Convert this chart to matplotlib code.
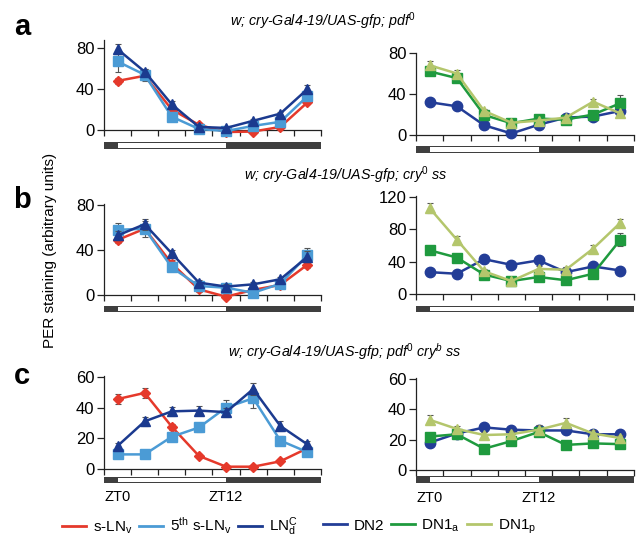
import matplotlib
matplotlib.use("Agg")
import matplotlib.pyplot as plt
from matplotlib.patches import Rectangle
from matplotlib.lines import Line2D

plt.rcParams['font.family'] = ['Liberation Sans', 'DejaVu Sans']
plt.rcParams['mathtext.fontset'] = 'custom'
plt.rcParams['mathtext.rm'] = 'Liberation Sans'
plt.rcParams['mathtext.it'] = 'Liberation Sans:italic'
plt.rcParams['mathtext.bf'] = 'Liberation Sans:bold'

# ---------------- data ----------------
zt = [0, 3, 6, 9, 12, 15, 18, 21]
light_on, light_off = 0, 12
x_range = (-1.5, 22.5)
xticks = [-1.5, 1.5, 4.5, 7.5, 10.5, 13.5, 16.5, 19.5, 22.5]

# panel a (pdf0)
sLNv_a = [48, 53, 20, 5, -2, -1.5, 3, 27]
fifth_a = [67, 54, 13, 1, -1, 4, 8, 33]
LNd_a = [79, 57, 25, 3, 2, 9, 16, 40]
sLNv_a_err = [3, 3, 2, 2, 2, 1, 2, 2]
fifth_a_err = [10, 6, 3, 1, 1, 2, 2, 4]
LNd_a_err = [5, 3, 3, 2, 1, 2, 2, 4]
DN2_a = [32, 28, 9.5, 1.5, 10, 17, 18, 23.5]
DN1a_a = [62, 55.5, 19.5, 11.5, 16, 15, 20, 31]
DN1p_a = [68, 60, 23.5, 12, 14, 17, 32.5, 21]
DN2_a_err = [2, 2, 2, 1, 2, 2, 2, 2]
DN1a_a_err = [3, 3, 3, 2, 2, 2, 2, 8]
DN1p_a_err = [4, 3, 2, 2, 2, 2, 3, 2]

# panel b (cry0 ss)
sLNv_b = [49, 59, 28, 5, -1.5, 4.5, 9, 27]
fifth_b = [58, 59, 24.5, 8, 6.5, 2, 10, 35.5]
LNd_b = [53, 63, 37, 11, 7.5, 9.5, 14, 34]
sLNv_b_err = [3, 3, 3, 2, 2, 1, 2, 3]
fifth_b_err = [6, 7, 3, 2, 2, 2, 2, 6]
LNd_b_err = [4, 5, 3, 2, 2, 2, 2, 5]
DN2_b = [27, 25, 43, 36, 41.5, 27, 34, 29]
DN1a_b = [54, 45, 24, 16, 21, 17, 25, 67]
DN1p_b = [106, 67, 28, 16, 31, 30, 56, 88]
DN2_b_err = [2, 2, 3, 2, 3, 2, 3, 2]
DN1a_b_err = [3, 3, 2, 2, 2, 2, 3, 8]
DN1p_b_err = [6, 4, 3, 2, 3, 3, 4, 5]

# panel c (pdf0 cryb ss)
sLNv_c = [45.5, 49.5, 27.5, 8.5, 1.5, 1.5, 5, 13.5]
fifth_c = [9.5, 9.5, 21, 27, 40, 46, 18.5, 11]
LNd_c = [15, 31, 37.5, 38, 37, 52, 28, 16]
sLNv_c_err = [3, 3, 2, 1, 1, 1, 1, 1]
fifth_c_err = [2, 2, 2, 3, 5, 6, 3, 2]
LNd_c_err = [2, 3, 3, 3, 3, 4, 3, 2]
DN2_c = [18, 24, 28, 26.5, 26, 26, 23.5, 23.5]
DN1a_c = [22, 23.5, 14, 19, 25, 16.5, 17.5, 17]
DN1p_c = [33, 27, 23, 23.5, 26.5, 31, 24, 21]
DN2_c_err = [2, 2, 2, 1, 2, 2, 2, 2]
DN1a_c_err = [2, 2, 2, 2, 2, 2, 2, 2]
DN1p_c_err = [3, 2, 2, 2, 3, 3, 2, 2]

ln_labels = [r"s-LN$_{\rm v}$", r"5$^{\rm th}$ s-LN$_{\rm v}$", r"LN$_{\rm d}^{\rm C}$"]
dn_labels = ["DN2", r"DN1$_{\rm a}$", r"DN1$_{\rm p}$"]
titles = [r"w; cry-Gal4-19/UAS-gfp; pdf$^{\mathit{0}}$",
          r"w; cry-Gal4-19/UAS-gfp; cry$^{\mathit{0}}$ ss",
          r"w; cry-Gal4-19/UAS-gfp; pdf$^{\mathit{0}}$ cry$^{\mathit{b}}$ ss"]
panel_letters = ["a", "b", "c"]
ylabel = "PER staining (arbitrary units)"

# ---------------- styles ----------------
C_RED = '#e5392b'
C_LB = '#4b9bd5'
C_DB = '#1b3a8f'
C_DN2 = '#233d97'
C_GREEN = '#1f9a3e'
C_YG = '#b4c66c'
ln_styles = [(C_RED, 'D', 5.5), (C_LB, 's', 7), (C_DB, '^', 7.5)]
dn_styles = [(C_DN2, 'o', 7.5), (C_GREEN, 's', 7), (C_YG, '^', 7.5)]
BAR_DARK = '#3f3f3f'

W, H = 636, 539
fig = plt.figure(figsize=(W / 100, H / 100), dpi=100)


def px_axes(left, bottom_px, width, height_px):
    return fig.add_axes([left / W, 1 - bottom_px / H, width / W, height_px / H])


panels = [
    (104, 130, 217, 90, (0, 88), [0, 40, 80], [sLNv_a, fifth_a, LNd_a],
     [sLNv_a_err, fifth_a_err, LNd_a_err], ln_styles, 142, 149),
    (416, 135, 218, 82, (0, 80), [0, 40, 80], [DN2_a, DN1a_a, DN1p_a],
     [DN2_a_err, DN1a_a_err, DN1p_a_err], dn_styles, 146, 153),
    (104, 295, 217, 91, (0, 81), [0, 40, 80], [sLNv_b, fifth_b, LNd_b],
     [sLNv_b_err, fifth_b_err, LNd_b_err], ln_styles, 306, 312),
    (416, 294, 218, 98, (0, 121), [0, 40, 80, 120], [DN2_b, DN1a_b, DN1p_b],
     [DN2_b_err, DN1a_b_err, DN1p_b_err], dn_styles, 306, 312),
    (104, 469, 217, 93, (0, 60.5), [0, 20, 40, 60], [sLNv_c, fifth_c, LNd_c],
     [sLNv_c_err, fifth_c_err, LNd_c_err], ln_styles, 477, 483),
    (416, 470, 218, 92, (0, 60.5), [0, 20, 40, 60], [DN2_c, DN1a_c, DN1p_c],
     [DN2_c_err, DN1a_c_err, DN1p_c_err], dn_styles, 476, 483),
]

for i, (lp, zp, wp, hp, ylim, yticks, series, errs, styles, btop, bbot) in enumerate(panels):
    ax = px_axes(lp, zp, wp, hp)
    for k, (vals, err, (col, mk, ms)) in enumerate(zip(series, errs, styles)):
        ax.errorbar(zt, vals, yerr=err, fmt='none', ecolor='#555555',
                    elinewidth=0.8, capsize=2, capthick=0.8, zorder=2 + k, clip_on=False)
        ax.plot(zt, vals, color=col, lw=1.8, marker=mk, ms=ms, mec=col, mfc=col,
                zorder=3 + k, clip_on=False)
    ax.set_xlim(*x_range)
    ax.set_ylim(*ylim)
    ax.set_xticks(xticks)
    ax.set_xticklabels([])
    ax.set_yticks(yticks)
    ax.tick_params(axis='y', direction='out', length=5, width=0.9,
                   labelsize=12, pad=2, color='#222222')
    ax.tick_params(axis='x', direction='out', length=4, width=0.9, color='#222222')
    for s in ['top', 'right']:
        ax.spines[s].set_visible(False)
    for s in ['left', 'bottom']:
        ax.spines[s].set_linewidth(0.9)
        ax.spines[s].set_color('#222222')

    # light/dark bar
    bax = px_axes(lp, bbot, wp, bbot - btop)
    bax.set_xlim(*x_range)
    bax.set_ylim(0, 1)
    bax.axis('off')
    bax.add_patch(Rectangle((x_range[0], 0), x_range[1] - x_range[0], 1,
                            facecolor=BAR_DARK, edgecolor='none'))
    bax.add_patch(Rectangle((light_on, 0.17), light_off - light_on, 0.66,
                            facecolor='white', edgecolor='none'))
    if i >= 4:
        bax.text(light_on, -1.1, "ZT0", ha='center', va='top', fontsize=10.5,
                 transform=bax.transData, clip_on=False)
        bax.text(light_off, -1.1, "ZT12", ha='center', va='top', fontsize=10.5,
                 transform=bax.transData, clip_on=False)

# titles
title_pos = [(323, 21), (346, 175), (345, 352)]
for t, (tx, ty) in zip(titles, title_pos):
    fig.text(tx / W, 1 - ty / H, t, ha='center', va='center', fontsize=10.3, style='italic')

# panel letters
letter_pos = [(22, 27), (22, 200), (22, 376)]
for l, (lx, ly) in zip(panel_letters, letter_pos):
    fig.text(lx / W, 1 - ly / H, l, ha='center', va='center', fontsize=21, fontweight='bold')

fig.text(50 / W, 1 - 250 / H, ylabel, rotation=90, ha='center', va='center', fontsize=11)

# legends
ln_handles = [Line2D([], [], color=c, lw=2) for c, _, _ in ln_styles]
dn_handles = [Line2D([], [], color=c, lw=2) for c, _, _ in dn_styles]
leg_kw = dict(frameon=False, ncol=3, fontsize=11, handlelength=1.55, handletextpad=0.45,
              columnspacing=0.45, borderaxespad=0, borderpad=0, loc='center left')
fig.legend(ln_handles, ln_labels, bbox_to_anchor=(62 / W, 1 - 527 / H), **leg_kw)
fig.legend(dn_handles, dn_labels, bbox_to_anchor=(323 / W, 1 - 527 / H), **leg_kw)

fig.savefig("out.png", dpi=100)
